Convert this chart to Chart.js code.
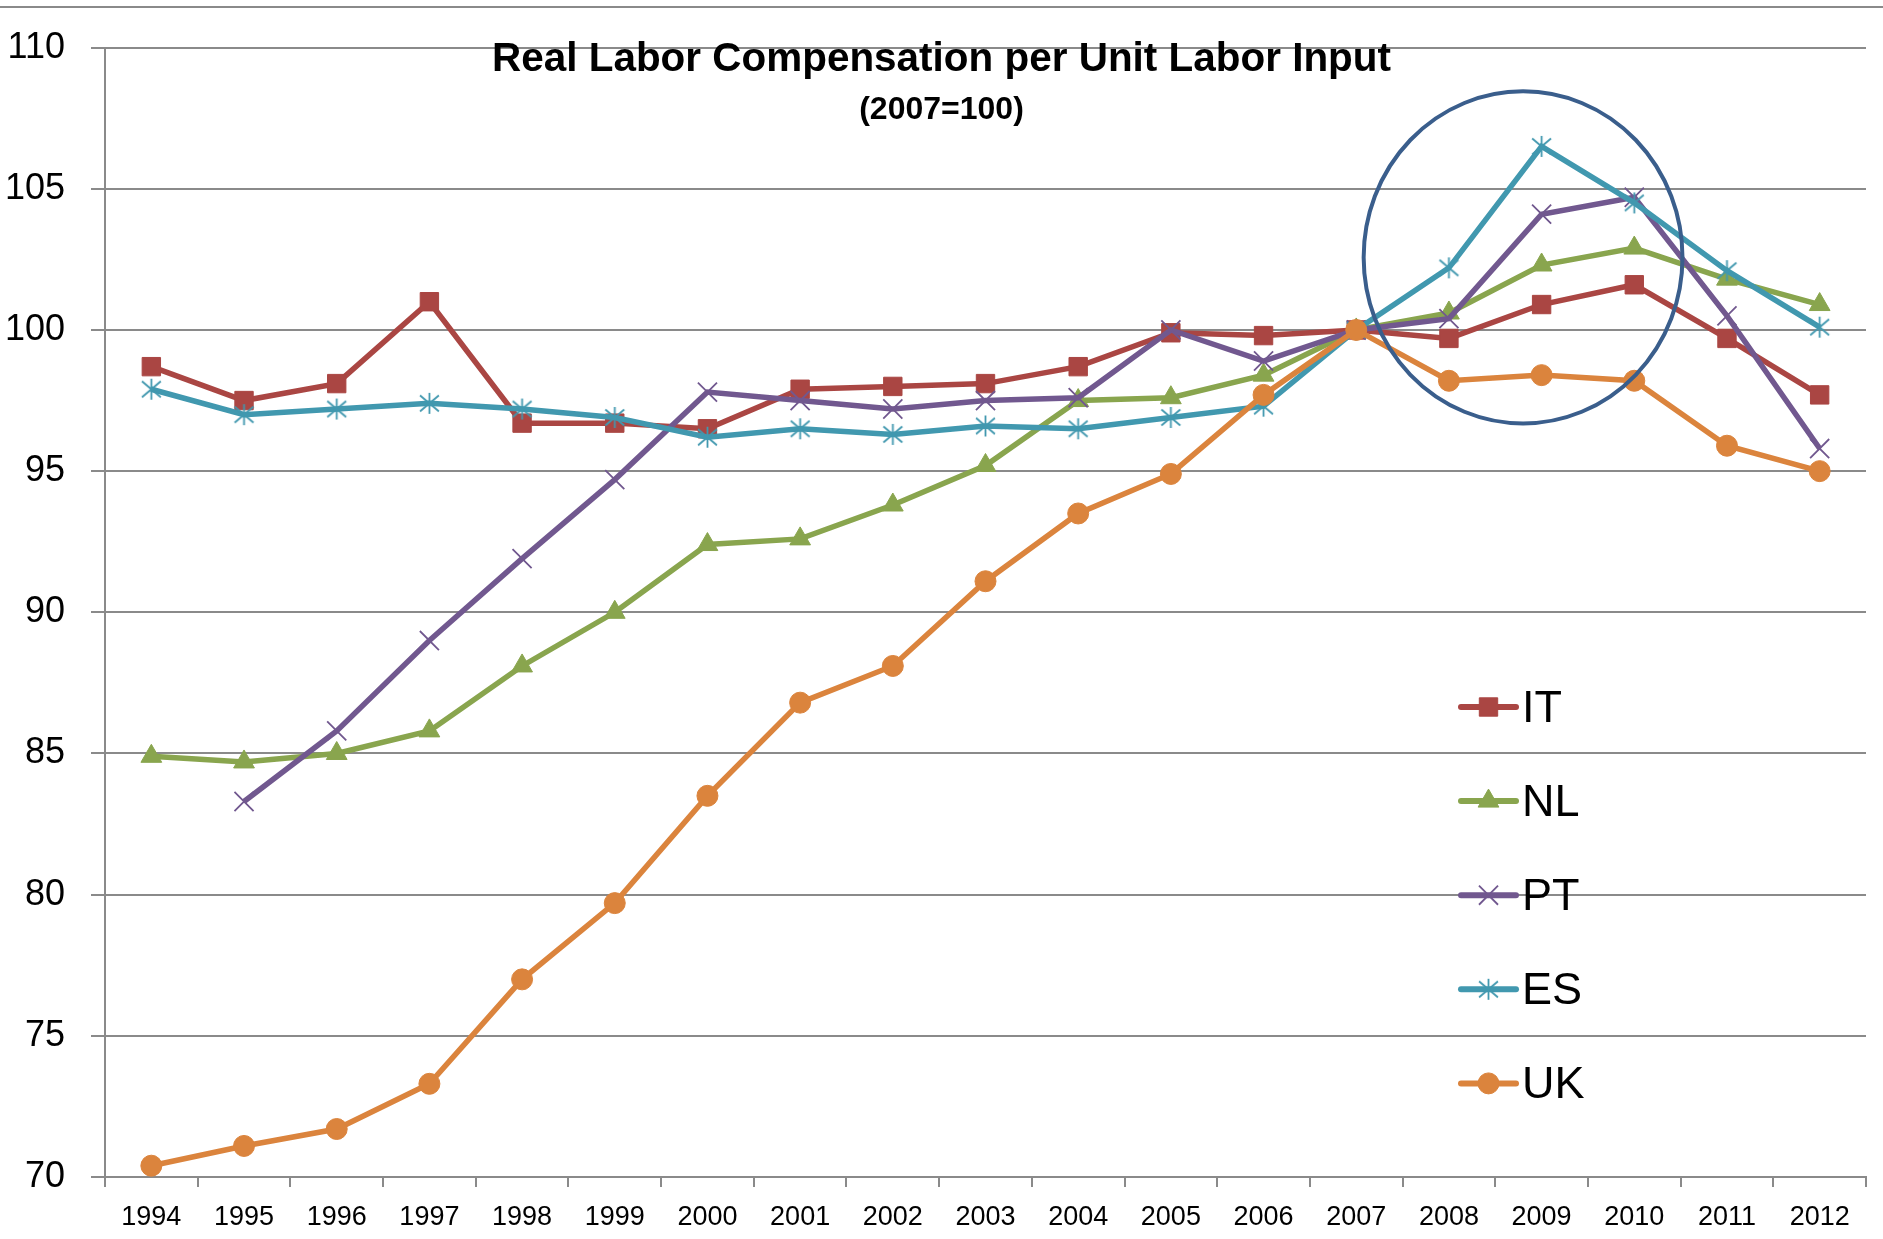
<!DOCTYPE html>
<html>
<head>
<meta charset="utf-8">
<title>Real Labor Compensation per Unit Labor Input</title>
<script src="https://cdn.jsdelivr.net/npm/chart.js@4.4.1/dist/chart.umd.min.js"></script>
<style>
  html, body { margin: 0; padding: 0; background: #fff; }
  #wrap { width: 1883px; height: 1239px; }
</style>
</head>
<body>
<div id="wrap"><canvas id="chart" width="1883" height="1239"></canvas></div>
<script>
// chart data (index, 2007 = 100)
const years = ['1994', '1995', '1996', '1997', '1998', '1999', '2000', '2001', '2002', '2003',
               '2004', '2005', '2006', '2007', '2008', '2009', '2010', '2011', '2012'];
const seriesNames = ['IT', 'NL', 'PT', 'ES', 'UK'];
const IT = [98.7, 97.5, 98.1, 101.0, 96.7, 96.7, 96.5, 97.9, 98.0, 98.1, 98.7, 99.9, 99.8, 100.0, 99.7, 100.9, 101.6, 99.7, 97.7];
const NL = [84.9, 84.7, 85.0, 85.8, 88.1, 90.0, 92.4, 92.6, 93.8, 95.2, 97.5, 97.6, 98.4, 100.0, 100.6, 102.3, 102.9, 101.8, 100.9];
const PT = [null, 83.3, 85.8, 89.0, 91.9, 94.7, 97.8, 97.5, 97.2, 97.5, 97.6, 100.0, 98.9, 100.0, 100.4, 104.1, 104.7, 100.5, 95.8];
const ES = [97.9, 97.0, 97.2, 97.4, 97.2, 96.9, 96.2, 96.5, 96.3, 96.6, 96.5, 96.9, 97.3, 100.0, 102.2, 106.5, 104.5, 102.1, 100.1];
const UK = [70.4, 71.1, 71.7, 73.3, 77.0, 79.7, 83.5, 86.8, 88.1, 91.1, 93.5, 94.9, 97.7, 100.0, 98.2, 98.4, 98.2, 95.9, 95.0];
const yTicks = [70, 75, 80, 85, 90, 95, 100, 105, 110];

const titleText = 'Real Labor Compensation per Unit Labor Input';
const subtitleText = '(2007=100)';

// highlight ellipse around 2008-2010 (category index / value units)
const highlight = { x: 14.8, y: 102.57, rx: 1.72, ry: 5.88 };

const FONT = "'Liberation Sans', Arial, sans-serif";
const colors = ['#AA4643', '#89A54E', '#71588F', '#4198AF', '#DB843D'];

// Excel style asterisk marker: vertical bar plus an X
function makeAsterisk(color, size, lw) {
    const c = document.createElement('canvas');
    c.width = size; c.height = size;
    const g = c.getContext('2d');
    const m = size / 2, e = size * 0.41;
    g.strokeStyle = color;
    g.lineWidth = lw;
    g.beginPath();
    g.moveTo(m, 1); g.lineTo(m, size - 1);
    g.moveTo(m - e, m - e * 0.85); g.lineTo(m + e, m + e * 0.85);
    g.moveTo(m + e, m - e * 0.85); g.lineTo(m - e, m + e * 0.85);
    g.stroke();
    return c;
}

const markers = [
    { style: 'rect', radius: 13, border: 1 },
    { style: 'triangle', radius: 12, border: 1 },
    { style: 'crossRot', radius: 13.5, border: 1.8 },
    { style: makeAsterisk(colors[3], 23, 1.8), radius: 12, border: 0 },
    { style: 'circle', radius: 10.5, border: 1 }
];

const values = [IT, NL, PT, ES, UK];
const datasets = values.map((vals, i) => ({
    label: seriesNames[i],
    data: vals,
    borderColor: colors[i],
    backgroundColor: colors[i],
    borderWidth: 5.5,
    tension: 0,
    spanGaps: false,
    pointStyle: markers[i].style,
    pointRadius: markers[i].radius,
    pointBorderWidth: markers[i].border,
    pointBackgroundColor: colors[i],
    pointBorderColor: colors[i],
    order: values.length - i
}));

const decor = {
    id: 'decor',
    beforeDraw(chart) {
        const ctx = chart.ctx;
        ctx.save();
        ctx.strokeStyle = '#8a8a8a';
        ctx.lineWidth = 2;
        ctx.beginPath();
        ctx.moveTo(0, 7);
        ctx.lineTo(chart.width, 7);
        ctx.stroke();
        ctx.restore();
    },
    afterDatasetsDraw(chart) {
        const ctx = chart.ctx;
        const xs = chart.scales.x, ys = chart.scales.y;
        const step = xs.getPixelForValue(1) - xs.getPixelForValue(0);
        const cx = xs.getPixelForValue(0) + highlight.x * step;
        const cy = ys.getPixelForValue(highlight.y);
        const rx = highlight.rx * step;
        const ry = Math.abs(ys.getPixelForValue(highlight.y + highlight.ry) - cy);
        ctx.save();
        ctx.strokeStyle = '#3A5E8C';
        ctx.lineWidth = 4;
        ctx.beginPath();
        ctx.ellipse(cx, cy, rx, ry, 0, 0, Math.PI * 2);
        ctx.stroke();
        ctx.restore();
    },
    afterDraw(chart) {
        const ctx = chart.ctx;
        const cx = chart.width / 2;
        ctx.save();
        ctx.fillStyle = '#000';
        ctx.textAlign = 'center';
        ctx.textBaseline = 'alphabetic';

        // title, squeezed to a Calibri-like width
        ctx.font = 'bold 41px ' + FONT;
        const w = ctx.measureText(titleText).width;
        const sx = Math.min(1, 899 / w);
        ctx.save();
        ctx.translate(cx, 71);
        ctx.scale(sx, 1);
        ctx.fillText(titleText, 0, 0);
        ctx.restore();

        ctx.font = 'bold 32px ' + FONT;
        ctx.fillText(subtitleText, cx, 119);

        // legend inside the plot, lower right
        const lx0 = 1461, lx1 = 1516, ly0 = 707, gap = 94.1;
        chart.data.datasets.forEach((ds, i) => {
            const y = ly0 + i * gap;
            ctx.strokeStyle = ds.borderColor;
            ctx.lineWidth = 6;
            ctx.lineCap = 'round';
            ctx.beginPath();
            ctx.moveTo(lx0, y);
            ctx.lineTo(lx1, y);
            ctx.stroke();
            ctx.lineCap = 'butt';
            ctx.fillStyle = ds.pointBackgroundColor;
            ctx.strokeStyle = ds.pointBorderColor;
            ctx.lineWidth = ds.pointBorderWidth;
            Chart.helpers.drawPoint(ctx, {
                pointStyle: ds.pointStyle,
                radius: ds.pointRadius,
                borderWidth: ds.pointBorderWidth,
                rotation: 0
            }, (lx0 + lx1) / 2, y);
            ctx.fillStyle = '#000';
            ctx.textAlign = 'left';
            ctx.font = '45px ' + FONT;
            ctx.fillText(ds.label, 1522, y + 15);
        });
        ctx.restore();
    }
};

new Chart(document.getElementById('chart'), {
    type: 'line',
    data: { labels: years, datasets: datasets },
    options: {
        responsive: false,
        animation: false,
        events: [],
        layout: { padding: { top: 45, right: 17, left: 0, bottom: 0 } },
        plugins: {
            legend: { display: false },
            title: { display: false },
            tooltip: { enabled: false }
        },
        scales: {
            x: {
                offset: true,
                grid: {
                    offset: true,
                    drawOnChartArea: false,
                    drawTicks: true,
                    tickLength: 10,
                    color: '#8a8a8a',
                    lineWidth: 2
                },
                border: { color: '#8a8a8a', width: 2 },
                ticks: {
                    color: '#000',
                    font: { family: FONT, size: 27 },
                    padding: 14,
                    maxRotation: 0,
                    autoSkip: false
                },
                afterFit(scale) { scale.height = 62; }
            },
            y: {
                min: 70,
                max: 110,
                afterBuildTicks(scale) { scale.ticks = yTicks.map(v => ({ value: v })); },
                grid: {
                    color: '#8a8a8a',
                    lineWidth: 2,
                    drawTicks: true,
                    tickLength: 14
                },
                border: { color: '#8a8a8a', width: 2 },
                ticks: {
                    color: '#000',
                    font: { family: FONT, size: 36 },
                    padding: 26
                },
                afterFit(scale) { scale.width = 105; }
            }
        }
    },
    plugins: [decor]
});
</script>
</body>
</html>
